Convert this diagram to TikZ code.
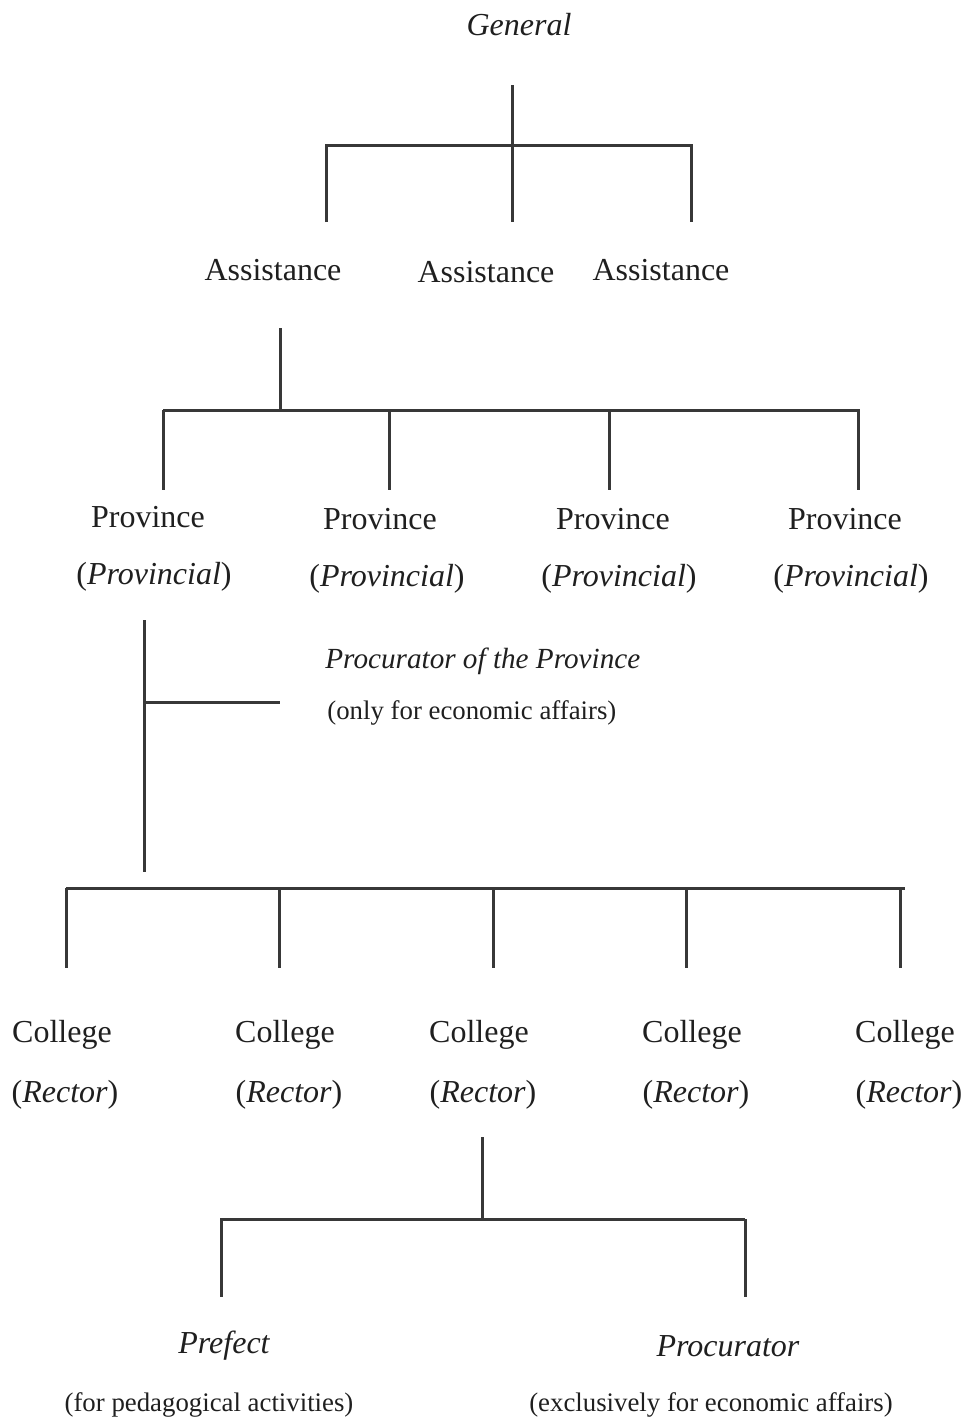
\documentclass[tikz,border=0pt]{standalone}
\usepackage{fontspec}
\setmainfont{Liberation Serif}
\begin{document}
\begin{tikzpicture}[x=0.5pt,y=-0.5pt,
  lbl/.style={inner sep=0pt,text=black!88,font=\fontsize{16}{19}\selectfont},
  lblit/.style={lbl,font=\fontsize{16}{19}\selectfont\itshape},
  sub/.style={inner sep=0pt,text=black!88,font=\fontsize{13.4}{16}\selectfont},
  subit/.style={inner sep=0pt,text=black!88,font=\fontsize{14.6}{17}\selectfont\itshape},
  conn/.style={draw=black!78,line width=1.5pt}]
\useasboundingbox (0,0) rectangle (965,1421);
% ---- texts
\node[lblit] (gen) at (519,25) {General};
\node[lbl] (as1) at (273,270) {Assistance};
\node[lbl] (as2) at (486,272) {Assistance};
\node[lbl] (as3) at (661,270) {Assistance};
\foreach \i/\x/\y in {1/148/517,2/380/519,3/613/519,4/845/519}{
  \node[lbl] (pr\i) at (\x,\y) {Province};
}
\foreach \i/\x/\y in {1/154/577,2/387/579,3/619/579,4/851/579}{
  \node[lbl] (pv\i) at (\x,\y) {(\textit{Provincial})};
}
\node[subit,anchor=west] (pp) at (325,661) {Procurator of the Province};
\node[sub,anchor=west] (ppe) at (327,713) {(only for economic affairs)};
\foreach \i/\x in {1/62,2/285,3/479,4/692,5/905}{
  \node[lbl] (co\i) at (\x,1035) {College};
}
\foreach \i/\x in {1/65,2/289,3/483,4/696,5/909}{
  \node[lbl] (re\i) at (\x,1095) {(\textit{Rector})};
}
\node[lblit] (pf) at (224,1346) {Prefect};
\node[sub] (pfe) at (209,1405) {(for pedagogical activities)};
\node[lblit] (pc) at (728,1346) {Procurator};
\node[sub] (pce) at (711,1405) {(exclusively for economic affairs)};
% ---- connector points
\coordinate (g0) at (512,85);
\coordinate (g1) at (512,145);
\coordinate (g2) at (512,222);
\coordinate (gl) at (326,145);
\coordinate (gr) at (691,145);
\coordinate (gl2) at (326,222);
\coordinate (gr2) at (691,222);
\coordinate (a0) at (280,328);
\coordinate (a1) at (280,410);
\coordinate (ah1) at (163,410);
\coordinate (ah2) at (860,410);
\coordinate (p0) at (144,620);
\coordinate (p1) at (144,702);
\coordinate (p2) at (280,702);
\coordinate (p3) at (144,872);
\coordinate (ch1) at (66,888);
\coordinate (ch2) at (905,888);
\coordinate (r0) at (482,1137);
\coordinate (r1) at (482,1219);
\coordinate (rh1) at (220,1219);
\coordinate (rh2) at (745,1219);
% ---- connectors
\draw[conn] (g0) -- (g2);
\draw[conn] (gl2) -- (gl) -- (gr) -- (gr2);
\draw[conn] (a0) -- (a1);
\draw[conn] (ah1) -- (ah2);
\foreach \x in {163,389,609,858}{ \draw[conn] (\x,410) -- (\x,490); }
\draw[conn] (p0) -- (p3);
\draw[conn] (p1) -- (p2);
\draw[conn] (ch1) -- (ch2);
\foreach \x in {66,279,493,686,900}{ \draw[conn] (\x,888) -- (\x,968); }
\draw[conn] (r0) -- (r1);
\draw[conn] (rh1) -- (rh2);
\draw[conn] (221,1219) -- (221,1297);
\draw[conn] (745,1219) -- (745,1297);
\end{tikzpicture}
\end{document}
